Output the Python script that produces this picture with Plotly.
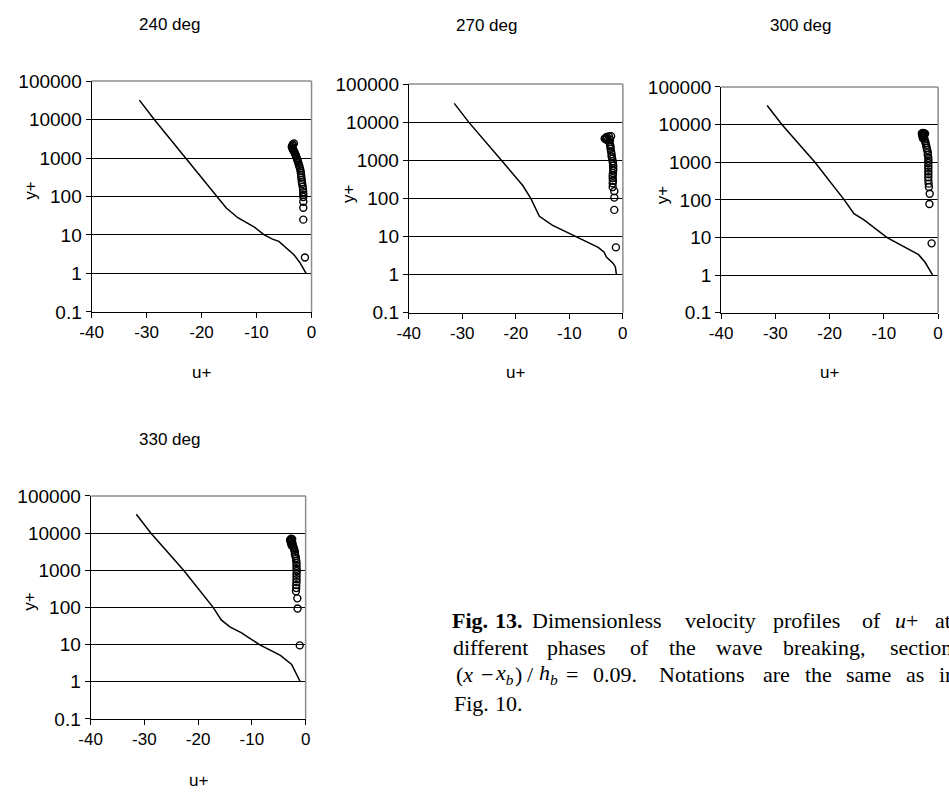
import plotly.graph_objects as go

W, H = 949, 800

# ---------------- data ----------------
panel_titles = ["240 deg", "270 deg", "300 deg", "330 deg"]
x_tickvals = [-40, -30, -20, -10, 0]
x_ticktext = ["-40", "-30", "-20", "-10", "0"]
y_tickvals = [0.1, 1, 10, 100, 1000, 10000, 100000]
y_ticktext = ["0.1", "1", "10", "100", "1000", "10000", "100000"]

line_u_240 = [-31.3, -28.6, -22.9, -17.6, -15.5, -13.4, -10.4, -8.6, -7.1, -5.95, -4.5, -3.15, -2.1, -1.0]
line_y_240 = [32000, 10000, 1000, 112, 50, 28, 16, 10, 7.8, 6.8, 4.5, 3.0, 1.9, 1.0]
circ_u_240 = [-3.2, -3.4, -3.5, -3.6, -3.5, -3.4, -3.3, -3.2, -3.1, -3.0, -2.9, -2.8, -2.7, -2.6, -2.5,
              -2.4, -2.3, -2.2, -2.1, -2.0, -1.95, -1.9, -1.85, -1.8, -1.75, -1.7, -1.6, -1.55, -1.5,
              -1.5, -1.5, -1.5, -1.5, -1.5, -1.2]
circ_y_240 = [2400, 2250, 2100, 1950, 1800, 1700, 1600, 1500, 1400, 1300, 1200, 1100, 1000, 900, 820,
              740, 660, 600, 530, 470, 410, 360, 310, 270, 235, 210, 180, 155, 129, 110, 97, 73, 51, 25, 2.6]

line_u_270 = [-31.5, -28.8, -22.7, -18.7, -17.2, -15.6, -13.2, -8.9, -4.6, -3.5, -3.07, -1.84, -1.4, -1.2]
line_y_270 = [31000, 10000, 1000, 218, 100, 34, 20, 10, 5.2, 3.9, 2.9, 2.0, 1.6, 1.0]
circ_u_270 = [-3.4, -3.2, -3.0, -2.6, -2.2, -2.4, -2.8, -3.1, -2.5, -2.4, -2.3, -2.3, -2.2, -2.1, -2.1,
              -2.0, -1.9, -1.85, -1.8, -1.8, -1.8, -1.85, -1.9, -1.9, -1.85, -1.9, -1.9, -1.6, -1.6,
              -1.6, -1.3]
circ_y_270 = [3700, 3900, 4100, 4200, 4300, 3500, 3300, 3500, 3000, 2600, 2300, 2000, 1700, 1450, 1260,
              1100, 950, 850, 720, 620, 540, 460, 400, 340, 290, 250, 200, 155, 105, 50, 5.2]

line_u_300 = [-31.5, -28.8, -22.7, -17.3, -15.5, -13.6, -9.4, -5.8, -3.6, -2.4, -1.0]
line_y_300 = [32000, 10000, 1000, 100, 43, 29, 10, 5.2, 3.5, 2.2, 1.0]
circ_u_300 = [-3.0, -2.8, -2.6, -2.4, -2.9, -2.7, -2.9, -2.6, -2.8, -2.5, -2.4, -2.3, -2.2, -2.1, -2.0,
              -1.9, -1.9, -1.8, -1.8, -1.8, -1.8, -1.8, -1.8, -1.8, -1.8, -1.8, -1.75, -1.7, -1.55,
              -1.6, -1.2]
circ_y_300 = [5800, 6000, 5900, 5700, 5400, 5200, 4900, 4600, 4300, 4000, 3600, 3200, 2800, 2400, 2100,
              1800, 1550, 1300, 1100, 950, 800, 680, 570, 480, 400, 330, 270, 220, 145, 78, 7]

line_u_330 = [-31.5, -28.8, -22.7, -17.2, -15.7, -14.1, -12.0, -8.6, -4.7, -2.6, -1.0]
line_y_330 = [32000, 10000, 1000, 100, 46, 30, 21, 10, 5.1, 2.9, 1.0]
circ_u_330 = [-2.7, -2.5, -2.9, -2.6, -2.8, -2.5, -2.7, -2.4, -2.6, -2.3, -2.2, -2.1, -2.0, -2.0, -1.9,
              -1.8, -1.75, -1.7, -1.7, -1.7, -1.65, -1.7, -1.7, -1.7, -1.7, -1.75, -1.75, -1.8, -1.55,
              -1.5, -1.1]
circ_y_330 = [7000, 6800, 6500, 6200, 5800, 5500, 5200, 4900, 4600, 4300, 3900, 3500, 3100, 2700, 2400,
              2100, 1800, 1550, 1300, 1100, 950, 800, 680, 570, 480, 400, 330, 270, 175, 93, 9.5]

panels = [
    (line_u_240, line_y_240, circ_u_240, circ_y_240),
    (line_u_270, line_y_270, circ_u_270, circ_y_270),
    (line_u_300, line_y_300, circ_u_300, circ_y_300),
    (line_u_330, line_y_330, circ_u_330, circ_y_330),
]

# ---------------- layout geometry (pixels) ----------------
boxes = [(81, 305, 73, 310), (404, 622, 76, 311), (722, 943, 79, 311), (80, 299, 499, 728)]
title_pos = [(160, 15), (483, 16), (803, 16), (160, 441)]
ytitle_pos = [(18, 185), (342, 188), (662, 190), (17, 607)]
xtitle_pos = [(193, 372), (513, 372), (832, 372), (190, 791)]

SANS = "Liberation Sans, Arial, sans-serif"
SERIF = "Liberation Serif, Times New Roman, serif"


def px(x):
    return x / W


def py(y):
    return 1 - y / H


fig = go.Figure()
layout = dict(
    width=W, height=H, margin=dict(l=0, r=0, t=0, b=0),
    paper_bgcolor="white", plot_bgcolor="white", showlegend=False,
)
shapes = []
annotations = []

for i, (lu, ly, cu, cy) in enumerate(panels):
    n = "" if i == 0 else str(i + 1)
    xa, ya = "x" + n, "y" + n
    fig.add_trace(go.Scatter(x=lu, y=ly, mode="lines", line=dict(color="black", width=1.5),
                             xaxis=xa, yaxis=ya, hoverinfo="skip"))
    fig.add_trace(go.Scatter(x=cu, y=cy, mode="markers",
                             marker=dict(symbol="circle-open", size=7, color="black",
                                         line=dict(width=1.4, color="black")),
                             xaxis=xa, yaxis=ya, hoverinfo="skip"))
    l, r, t, b = boxes[i]
    layout["xaxis" + n] = dict(
        domain=[px(l), px(r)], anchor=ya, range=[-40, 0],
        tickvals=x_tickvals, ticktext=x_ticktext,
        ticks="outside", ticklen=5, tickcolor="black", showline=True, linecolor="black",
        linewidth=1, showgrid=False, zeroline=False,
        tickfont=dict(family=SANS, size=17, color="black"),
    )
    layout["yaxis" + n] = dict(
        domain=[py(b), py(t)], anchor=xa, type="log", range=[-1, 5],
        tickvals=y_tickvals, ticktext=y_ticktext, ticks="outside", ticklen=5,
        tickcolor="black", showline=True, linecolor="black", linewidth=1,
        showgrid=True, gridcolor="black", gridwidth=1, zeroline=False,
        tickfont=dict(family=SANS, size=19, color="black"),
    )
    shapes.append(dict(type="line", xref=xa + " domain", yref=ya + " domain",
                       x0=0, x1=1, y0=1, y1=1, line=dict(color="#8c8c8c", width=1.5)))
    shapes.append(dict(type="line", xref=xa + " domain", yref=ya + " domain",
                       x0=1, x1=1, y0=0, y1=1, line=dict(color="#8c8c8c", width=1.5)))

    tx, ty = title_pos[i]
    annotations.append(dict(text=panel_titles[i], x=px(tx), y=py(ty), xref="paper", yref="paper",
                            xanchor="center", yanchor="middle", showarrow=False,
                            font=dict(family=SANS, size=17, color="black")))
    yx, yy = ytitle_pos[i]
    annotations.append(dict(text="y+", x=px(yx), y=py(yy), xref="paper", yref="paper",
                            xanchor="center", yanchor="middle", showarrow=False, textangle=-90,
                            font=dict(family=SANS, size=17, color="black")))
    xx, xy = xtitle_pos[i]
    annotations.append(dict(text="u+", x=px(xx), y=py(xy), xref="paper", yref="paper",
                            xanchor="center", yanchor="middle", showarrow=False,
                            font=dict(family=SANS, size=17, color="black")))

# ---------------- caption (justified, word by word) ----------------
caption_lines = [
    (627, [("<b>Fig.</b>", 446), ("<b>13.</b>", 490), ("Dimensionless", 527), ("velocity", 683),
           ("profiles", 773), ("of", 863), ("<i>u</i>+", 897), ("at", 938)]),
    (655, [("different", 447), ("phases", 543), ("of", 627), ("the", 667), ("wave", 715),
           ("breaking,", 783), ("section", 892)]),
    (682, [("(<i>x</i>", 450), ("−", 476), ("<i>x<sub>b</sub></i>", 490), (")", 510), ("/", 522),
           ("<i>h<sub>b</sub></i>", 535), ("=", 562), ("0.09.", 590), ("Notations", 657),
           ("are", 763), ("the", 805), ("same", 847), ("as", 908), ("in", 942)]),
    (712, [("Fig.", 448), ("10.", 490)]),
]
for yline, words in caption_lines:
    for txt, xw in words:
        annotations.append(dict(text=txt, x=px(xw), y=py(yline), xref="paper", yref="paper",
                                xanchor="left", yanchor="middle", showarrow=False,
                                font=dict(family=SERIF, size=22, color="black")))

layout["shapes"] = shapes
layout["annotations"] = annotations
fig.update_layout(**layout)
fig.write_html("out.html")
